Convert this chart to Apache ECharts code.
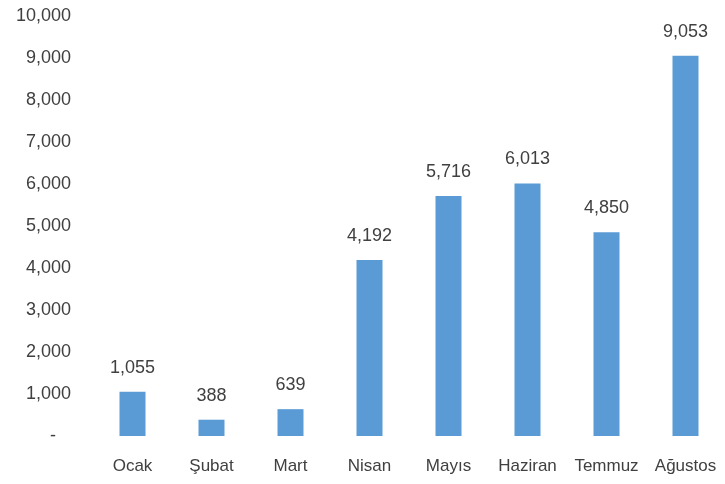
<!DOCTYPE html>
<html>
<head>
<meta charset="utf-8">
<script src="https://cdn.jsdelivr.net/npm/echarts@6/dist/echarts.min.js"></script>
<style>
  html, body { margin: 0; padding: 0; background: #fff; }
  #chart { width: 725px; height: 484px; }
</style>
</head>
<body>
<div id="chart"></div>
<script>
const months = ['Ocak', 'Şubat', 'Mart', 'Nisan', 'Mayıs', 'Haziran', 'Temmuz', 'Ağustos'];
const values = [1055, 388, 639, 4192, 5716, 6013, 4850, 9053];

const chart = echarts.init(document.getElementById('chart'));
const textColor = '#404040';
const font = 'Liberation Sans';

const fmt = v => v.toLocaleString('en-US');

chart.setOption({
  animation: false,
  grid: { left: 93, right: -5, top: 16, bottom: 48 },
  xAxis: {
    type: 'category',
    data: months,
    axisLine: { show: false },
    axisTick: { show: false },
    axisLabel: { color: textColor, fontFamily: font, fontSize: 17, margin: 22, interval: 0 }
  },
  yAxis: {
    type: 'value',
    min: 0,
    max: 10000,
    interval: 1000,
    splitLine: { show: false },
    axisLine: { show: false },
    axisTick: { show: false },
    axisLabel: {
      color: textColor,
      fontFamily: font,
      fontSize: 18,
      margin: 22,
      formatter: v => (v === 0 ? '-   ' : fmt(v))
    }
  },
  series: [
    {
      type: 'bar',
      data: values,
      barWidth: 26,
      itemStyle: { color: '#5B9BD5' },
      label: {
        show: true,
        position: 'top',
        distance: 15,
        color: textColor,
        fontFamily: font,
        fontSize: 18,
        formatter: p => fmt(p.value)
      }
    }
  ]
});
</script>
</body>
</html>
